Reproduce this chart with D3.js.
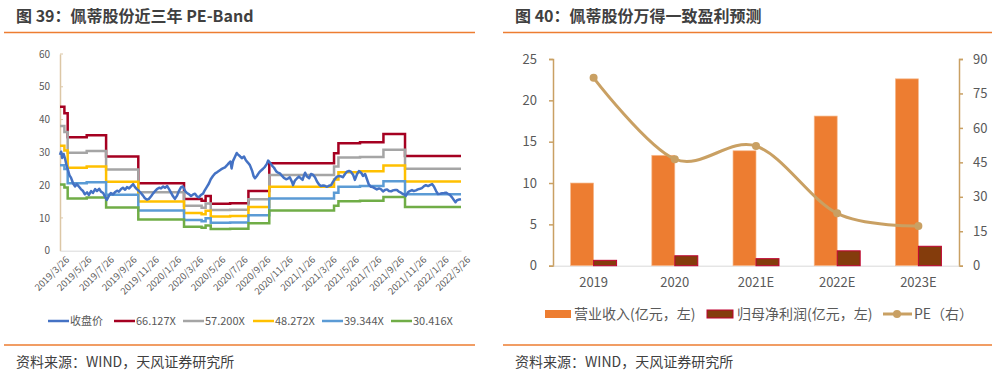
<!DOCTYPE html>
<html>
<head>
<meta charset="utf-8">
<script src="https://cdn.jsdelivr.net/npm/d3@7"></script>
<style>
  body { margin: 0; background: #fff; }
  text { font-family: "Noto Sans CJK SC", "Noto Sans", sans-serif; }
</style>
</head>
<body>
<div id="chart"></div>
<script>
// ---- left chart: PE-Band ----
var priceData = [
  ["2019-03-26",29.2],["2019-03-29",30.2],["2019-04-01",28.3],["2019-04-05",29.5],["2019-04-09",28.0],
  ["2019-04-13",26.0],["2019-04-17",24.5],["2019-04-21",23.0],["2019-04-25",22.3],["2019-05-01",20.5],
  ["2019-05-06",19.6],["2019-05-11",20.3],["2019-05-17",19.5],["2019-05-22",18.8],["2019-05-28",18.2],
  ["2019-06-02",17.2],["2019-06-08",17.8],["2019-06-13",17.0],["2019-06-19",18.2],["2019-06-24",17.6],
  ["2019-06-30",18.8],["2019-07-05",18.2],["2019-07-11",18.9],["2019-07-16",18.0],["2019-07-22",17.6],
  ["2019-07-27",16.5],["2019-08-01",15.5],["2019-08-07",16.8],["2019-08-12",17.6],["2019-08-18",17.2],
  ["2019-08-23",17.8],["2019-08-29",18.3],["2019-09-03",18.0],["2019-09-09",18.8],["2019-09-14",19.2],
  ["2019-09-20",18.6],["2019-09-25",19.4],["2019-10-01",19.0],["2019-10-06",19.6],["2019-10-12",20.3],
  ["2019-10-17",19.4],["2019-10-22",18.8],["2019-10-28",18.2],["2019-11-02",17.6],["2019-11-08",16.8],
  ["2019-11-13",16.0],["2019-11-19",15.6],["2019-11-24",15.8],["2019-11-30",16.6],["2019-12-05",17.4],
  ["2019-12-11",18.2],["2019-12-16",18.8],["2019-12-22",19.2],["2019-12-27",19.0],["2020-01-02",19.6],
  ["2020-01-07",19.2],["2020-01-13",19.7],["2020-01-18",18.8],["2020-01-23",17.8],["2020-01-29",16.6],
  ["2020-02-03",15.8],["2020-02-09",16.8],["2020-02-14",18.2],["2020-02-20",19.4],["2020-02-25",19.6],
  ["2020-03-02",18.2],["2020-03-07",17.6],["2020-03-13",17.2],["2020-03-18",16.7],["2020-03-23",17.1],
  ["2020-03-29",17.4],["2020-04-03",16.6],["2020-04-09",16.3],["2020-04-14",17.0],["2020-04-20",17.4],
  ["2020-04-25",18.5],["2020-04-30",19.4],["2020-05-06",20.5],["2020-05-11",21.8],["2020-05-17",22.8],
  ["2020-05-23",23.6],["2020-05-28",23.9],["2020-06-02",24.3],["2020-06-08",24.8],["2020-06-13",25.1],
  ["2020-06-19",25.4],["2020-06-24",26.0],["2020-06-30",26.8],["2020-07-04",27.2],["2020-07-07",25.1],
  ["2020-07-11",27.4],["2020-07-16",28.6],["2020-07-21",29.8],["2020-07-24",29.4],["2020-07-30",28.8],
  ["2020-08-04",28.2],["2020-08-10",28.7],["2020-08-15",27.6],["2020-08-21",26.8],["2020-08-26",26.1],
  ["2020-09-01",24.4],["2020-09-05",22.8],["2020-09-09",22.1],["2020-09-14",22.8],["2020-09-20",23.8],
  ["2020-09-25",24.4],["2020-10-01",25.0],["2020-10-06",25.6],["2020-10-11",26.4],["2020-10-15",27.5],
  ["2020-10-20",26.8],["2020-10-26",25.9],["2020-10-31",25.3],["2020-11-06",24.2],["2020-11-11",23.8],
  ["2020-11-16",23.6],["2020-11-22",22.8],["2020-11-27",22.2],["2020-12-03",21.8],["2020-12-08",22.0],
  ["2020-12-13",22.4],["2020-12-19",21.0],["2020-12-22",20.0],["2020-12-27",21.4],["2021-01-02",22.1],
  ["2021-01-07",22.6],["2021-01-13",22.0],["2021-01-17",21.6],["2021-01-21",23.0],["2021-01-24",23.8],
  ["2021-01-29",22.6],["2021-02-04",22.1],["2021-02-09",23.4],["2021-02-14",23.2],["2021-02-20",22.4],
  ["2021-02-25",21.2],["2021-03-03",20.2],["2021-03-08",19.7],["2021-03-14",19.9],["2021-03-19",19.8],
  ["2021-03-25",19.5],["2021-03-30",19.8],["2021-04-05",20.0],["2021-04-10",21.0],["2021-04-16",22.0],
  ["2021-04-21",22.6],["2021-04-27",22.8],["2021-05-02",22.7],["2021-05-07",22.4],["2021-05-13",23.4],
  ["2021-05-18",24.1],["2021-05-24",24.3],["2021-05-29",24.1],["2021-06-04",23.2],["2021-06-09",21.6],
  ["2021-06-15",23.4],["2021-06-20",24.3],["2021-06-26",23.8],["2021-07-01",22.8],["2021-07-07",23.4],
  ["2021-07-12",21.8],["2021-07-17",20.2],["2021-07-23",19.5],["2021-07-28",19.4],["2021-08-03",19.0],
  ["2021-08-08",18.7],["2021-08-14",19.0],["2021-08-19",18.8],["2021-08-25",18.1],["2021-08-30",18.5],
  ["2021-09-05",18.7],["2021-09-10",18.2],["2021-09-16",18.1],["2021-09-21",18.4],["2021-09-27",18.5],
  ["2021-10-02",18.5],["2021-10-07",18.0],["2021-10-13",17.7],["2021-10-18",17.3],["2021-10-24",17.0],
  ["2021-10-26",16.7],["2021-11-01",17.8],["2021-11-06",18.2],["2021-11-12",18.5],["2021-11-17",18.2],
  ["2021-11-23",18.4],["2021-11-28",18.7],["2021-12-04",18.9],["2021-12-09",19.1],["2021-12-15",19.7],
  ["2021-12-20",20.0],["2021-12-26",19.7],["2021-12-31",20.0],["2022-01-06",20.3],["2022-01-11",19.6],
  ["2022-01-17",18.2],["2022-01-22",17.3],["2022-01-28",17.4],["2022-02-02",17.5],["2022-02-08",17.6],
  ["2022-02-13",17.7],["2022-02-19",17.3],["2022-02-24",17.0],["2022-03-02",16.2],["2022-03-07",15.4],
  ["2022-03-11",14.8],["2022-03-15",15.4],["2022-03-21",15.6],["2022-03-26",15.7]
];
var bandDates = ["2019-03-26","2019-04-07","2019-04-16","2019-06-07","2019-07-30","2019-10-26",
  "2020-02-28","2020-04-16","2020-04-27","2020-05-11","2020-07-03","2020-08-22","2020-10-18",
  "2021-04-13","2021-04-25","2021-06-23","2021-08-26","2021-10-24","2022-03-26"];
var band66 = [43.9,41.9,34.6,35.2,28.7,20.6,15.8,15.2,16.7,14.3,14.5,18.2,26.7,29.7,32.8,33.1,35.6,28.9,28.9];
var band57 = [38.0,36.2,29.9,30.4,24.8,17.8,13.7,13.1,14.4,12.4,12.5,15.7,23.1,25.7,28.4,28.6,30.8,25.0,25.0];
var band48 = [32.0,30.6,25.3,25.7,21.0,15.0,11.5,11.1,12.2,10.4,10.6,13.3,19.5,21.7,23.9,24.2,26.0,21.1,21.1];
var band39 = [26.1,24.9,20.6,20.9,17.1,12.3,9.4,9.0,9.9,8.5,8.6,10.8,15.9,17.7,19.5,19.7,21.2,17.2,17.2];
var band30 = [20.2,19.3,15.9,16.2,13.2,9.5,7.3,7.0,7.7,6.6,6.7,8.4,12.3,13.7,15.1,15.2,16.4,13.3,13.3];
var legendNames = ["收盘价","66.127X","57.200X","48.272X","39.344X","30.416X"];
var legendColors = ["#4472C4","#A50021","#A5A5A5","#FFC000","#5B9BD5","#70AD47"];
var dateTicks = ["2019-03-26","2019-05-26","2019-07-26","2019-09-26","2019-11-26","2020-01-26",
  "2020-03-26","2020-05-26","2020-07-26","2020-09-26","2020-11-26","2021-01-26","2021-03-26",
  "2021-05-26","2021-07-26","2021-09-26","2021-11-26","2022-01-26","2022-03-26"];

// ---- right chart: consensus forecast ----
var years = ["2019","2020","2021E","2022E","2023E"];
var revenue = [10.0, 13.35, 13.9, 18.1, 22.6];
var netProfit = [0.65, 1.2, 0.85, 1.8, 2.35];
var pe = [81.8, 46.4, 52.1, 22.8, 17.3];

var parse = d3.timeParse("%Y-%m-%d");
var fmt = d3.timeFormat("%Y/%-m/%-d");

var svg = d3.select("#chart").append("svg")
  .attr("width", 1001)
  .attr("height", 377);
svg.append("rect").attr("width", 1001).attr("height", 377).attr("fill", "#fff");

// titles, rules, sources
svg.append("text").attr("x", 16).attr("y", 22).attr("font-size", 16).attr("font-weight", "bold")
  .attr("fill", "#404040").text("图 39：佩蒂股份近三年 PE-Band");
svg.append("text").attr("x", 515).attr("y", 22).attr("font-size", 16).attr("font-weight", "bold")
  .attr("fill", "#404040").text("图 40：佩蒂股份万得一致盈利预测");
[[4,475],[503,992]].forEach(function(r) {
  svg.append("line").attr("x1", r[0]).attr("x2", r[1]).attr("y1", 32.5).attr("y2", 32.5)
    .attr("stroke", "#ED7D31").attr("stroke-width", 1.5);
  svg.append("line").attr("x1", r[0]).attr("x2", r[1]).attr("y1", 345).attr("y2", 345)
    .attr("stroke", "#ED7D31").attr("stroke-width", 1.5);
  svg.append("text").attr("x", r[0] + 12).attr("y", 367).attr("font-size", 14)
    .attr("fill", "#404040").text("资料来源：WIND，天风证券研究所");
});

// ================= left chart =================
var x = d3.scaleTime()
  .domain([parse("2019-03-26"), parse("2022-03-26")])
  .range([60, 461]);
var y = d3.scaleLinear().domain([0, 60]).range([250.7, 54]);

var left = svg.append("g");
var yAxisL = left.append("g").attr("transform", "translate(60,0)")
  .call(d3.axisLeft(y).tickValues([0,10,20,30,40,50,60]).tickSize(0).tickPadding(10));
yAxisL.select(".domain").attr("stroke", "#DCC7A6").attr("stroke-width", 1.5);
yAxisL.selectAll("text").attr("font-size", 10).attr("fill", "#595959");
left.selectAll("line.ytk").data([10,20,30,40,50,60]).enter().append("line")
  .attr("x1", 60).attr("x2", 63).attr("y1", function(d){ return y(d); }).attr("y2", function(d){ return y(d); })
  .attr("stroke", "#DCC7A6");

var xAxisL = left.append("g").attr("transform", "translate(0,250.7)")
  .call(d3.axisBottom(x).tickValues(dateTicks.map(parse)).tickFormat(fmt).tickSize(0).tickPadding(4));
xAxisL.select(".domain").attr("stroke", "#D9D9D9");
xAxisL.selectAll("text").attr("font-size", 9.5).attr("fill", "#595959")
  .attr("text-anchor", "end").attr("dx", "0").attr("dy", "0.7em")
  .attr("transform", "rotate(-45) translate(0,0)")
  .each(function() {
    var t = d3.select(this);
    t.attr("transform", "translate(2,2) rotate(-45)");
  });

var bands = [band66, band57, band48, band39, band30];
var stepLine = d3.line().curve(d3.curveStepAfter)
  .x(function(d){ return x(d[0]); }).y(function(d){ return y(d[1]); });
bands.forEach(function(b, i) {
  var pts = bandDates.map(function(dt, j){ return [parse(dt), b[j]]; });
  left.append("path").datum(pts).attr("d", stepLine)
    .attr("fill", "none").attr("stroke", legendColors[i + 1]).attr("stroke-width", 2.5);
});
var priceLine = d3.line().x(function(d){ return x(parse(d[0])); }).y(function(d){ return y(d[1]); });
left.append("path").datum(priceData).attr("d", priceLine)
  .attr("fill", "none").attr("stroke", "#4472C4").attr("stroke-width", 2.5).attr("stroke-linejoin", "round");

// left legend
var legX = [48, 114, 183, 253, 322, 391];
legendNames.forEach(function(n, i) {
  left.append("line").attr("x1", legX[i]).attr("x2", legX[i] + 21).attr("y1", 321).attr("y2", 321)
    .attr("stroke", legendColors[i]).attr("stroke-width", 2.5);
  left.append("text").attr("x", legX[i] + 22).attr("y", 325).attr("font-size", 11)
    .attr("fill", "#595959").text(n);
});

// ================= right chart =================
var x0 = d3.scaleBand().domain(years).range([553, 959]).paddingInner(0.434).paddingOuter(0.217);
var x1 = d3.scaleBand().domain(["rev","np"]).range([0, x0.bandwidth()]);
var yL = d3.scaleLinear().domain([0, 25]).range([265.7, 59]);
var yR = d3.scaleLinear().domain([0, 90]).range([265.7, 59]);

var right = svg.append("g");
var axL = right.append("g").attr("transform", "translate(553,0)")
  .call(d3.axisLeft(yL).tickValues([0,5,10,15,20,25]).tickSize(4).tickPadding(12));
axL.selectAll(".domain, line").attr("stroke", "#C9A063").attr("stroke-width", 1.5);
axL.selectAll("text").attr("font-size", 13).attr("fill", "#595959");
var axR = right.append("g").attr("transform", "translate(959,0)")
  .call(d3.axisRight(yR).tickValues([0,15,30,45,60,75,90]).tickSize(4).tickPadding(10));
axR.selectAll(".domain, line").attr("stroke", "#C9A063").attr("stroke-width", 1.5);
axR.selectAll("text").attr("font-size", 13).attr("fill", "#595959");
var axB = right.append("g").attr("transform", "translate(0,265.7)")
  .call(d3.axisBottom(x0).tickSize(0).tickPadding(12));
axB.select(".domain").attr("stroke", "#D9D9D9");
axB.selectAll("text").attr("font-size", 13).attr("fill", "#595959");

right.selectAll("rect.rev").data(revenue).enter().append("rect")
  .attr("x", function(d, i){ return x0(years[i]) + x1("rev"); })
  .attr("width", x1.bandwidth())
  .attr("y", function(d){ return yL(d); })
  .attr("height", function(d){ return yL(0) - yL(d); })
  .attr("fill", "#ED7D31").attr("stroke", "#F6B98E").attr("stroke-width", 0.7);
right.selectAll("rect.np").data(netProfit).enter().append("rect")
  .attr("x", function(d, i){ return x0(years[i]) + x1("np"); })
  .attr("width", x1.bandwidth())
  .attr("y", function(d){ return yL(d); })
  .attr("height", function(d){ return yL(0) - yL(d); })
  .attr("fill", "#843C0C").attr("stroke", "#C00030").attr("stroke-width", 1);

var peLine = d3.line().curve(d3.curveCardinal.tension(0))
  .x(function(d, i){ return x0(years[i]) + x0.bandwidth() / 2; })
  .y(function(d){ return yR(d); });
right.append("path").datum(pe).attr("d", peLine)
  .attr("fill", "none").attr("stroke", "#C9A063").attr("stroke-width", 3);
right.selectAll("circle.pe").data(pe).enter().append("circle")
  .attr("cx", function(d, i){ return x0(years[i]) + x0.bandwidth() / 2; })
  .attr("cy", function(d){ return yR(d); })
  .attr("r", 4).attr("fill", "#C9A063");

// right legend
right.append("rect").attr("x", 545).attr("y", 310).attr("width", 26).attr("height", 8).attr("fill", "#ED7D31");
right.append("text").attr("x", 574).attr("y", 319).attr("font-size", 14).attr("fill", "#595959").text("营业收入(亿元，左)");
right.append("rect").attr("x", 707).attr("y", 310).attr("width", 26).attr("height", 8)
  .attr("fill", "#843C0C").attr("stroke", "#C00030");
right.append("text").attr("x", 737).attr("y", 319).attr("font-size", 14).attr("fill", "#595959").text("归母净利润(亿元，左)");
right.append("line").attr("x1", 883).attr("x2", 912).attr("y1", 314).attr("y2", 314)
  .attr("stroke", "#C9A063").attr("stroke-width", 3);
right.append("circle").attr("cx", 897).attr("cy", 314).attr("r", 4).attr("fill", "#C9A063");
right.append("text").attr("x", 914).attr("y", 319).attr("font-size", 14).attr("fill", "#595959").text("PE（右）");
</script>
</body>
</html>
